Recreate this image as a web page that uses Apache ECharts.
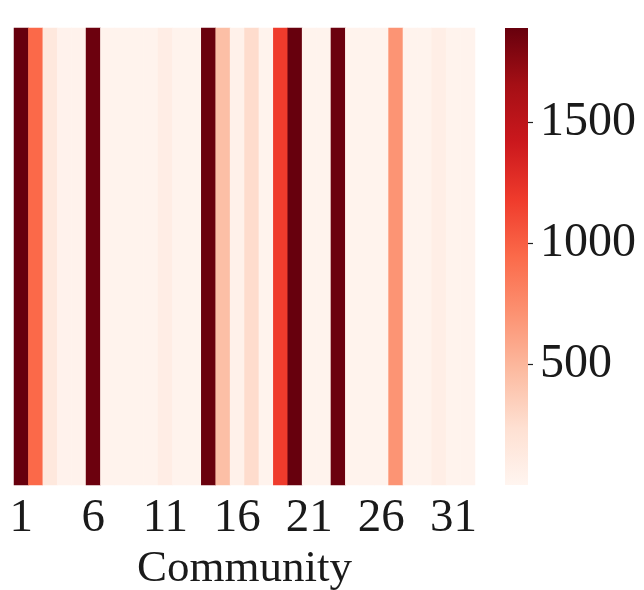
<!DOCTYPE html>
<html>
<head>
<meta charset="utf-8">
<script src="https://cdn.jsdelivr.net/npm/echarts@6/dist/echarts.min.js"></script>
<style>
  html, body { margin: 0; padding: 0; background: #ffffff; }
  #chart { width: 644px; height: 590px; }
</style>
</head>
<body>
<div id="chart"></div>
<script>
// Community indices (x axis) and their per-community counts
const communities = Array.from({ length: 32 }, (_, i) => String(i + 1));
const counts = [
  1890, 950, 150, 30, 30, 1870, 25, 25, 25, 25,
  85, 25, 25, 1880, 450, 45, 260, 25, 1180, 1890,
  25, 25, 1875, 25, 25, 25, 700, 25, 25, 80,
  25, 25
];
// Colour scale range and colour-bar tick values
const scaleMin = 0;
const scaleMax = 1890;
const barTicks = [500, 1000, 1500];

// Sequential "Reds" palette
const reds = ['#fff5f0', '#fee0d2', '#fcbba1', '#fc9272', '#fb6a4a',
              '#ef3b2c', '#cb181d', '#a50f15', '#67000d'];

const FONT = '"Liberation Serif", "Times New Roman", serif';

const cells = counts.map((v, i) => [i, 0, v]);

// Colour bar: one gradient rectangle spanning the scale range on its own axis
function renderColorBar(params, api) {
  const cs = params.coordSys;
  const yTop = api.coord([0, api.value(1)])[1];
  const yBottom = api.coord([0, api.value(0)])[1];
  const stops = reds.map((c, i) => ({ offset: i / (reds.length - 1), color: c })).reverse()
    .map((s, i, arr) => ({ offset: i / (arr.length - 1), color: s.color }));
  return {
    type: 'rect',
    shape: { x: cs.x, y: yTop, width: cs.width, height: yBottom - yTop },
    style: { fill: new echarts.graphic.LinearGradient(0, 0, 0, 1, stops) },
    silent: true
  };
}

const chart = echarts.init(document.getElementById('chart'), null, { renderer: 'canvas' });

chart.setOption({
  animation: false,
  backgroundColor: '#ffffff',
  grid: [
    { left: 14, top: 28, width: 461, height: 457, outerBoundsMode: 'none', containLabel: false },
    { left: 505, top: 28, width: 23, height: 457, outerBoundsMode: 'none', containLabel: false }
  ],
  xAxis: [
    {
      type: 'category',
      gridIndex: 0,
      data: communities,
      name: 'Community',
      nameLocation: 'middle',
      nameGap: 58,
      nameTextStyle: { fontFamily: FONT, fontSize: 45, color: '#1a1a1a' },
      axisLine: { show: false },
      axisTick: { show: false },
      splitLine: { show: false },
      axisLabel: {
        interval: 4,
        margin: 10,
        fontFamily: FONT,
        fontSize: 47,
        color: '#1a1a1a'
      }
    },
    {
      type: 'category',
      gridIndex: 1,
      data: [''],
      show: false
    }
  ],
  yAxis: [
    {
      type: 'category',
      gridIndex: 0,
      data: [''],
      show: false
    },
    {
      type: 'value',
      gridIndex: 1,
      position: 'right',
      min: scaleMin,
      max: scaleMax,
      interval: 500,
      axisLine: { show: true, lineStyle: { color: 'rgba(0,0,0,0)' } },
      splitLine: { show: false },
      axisTick: { show: true, length: 5, lineStyle: { color: '#222', width: 1.2 } },
      axisLabel: {
        showMinLabel: false,
        showMaxLabel: false,
        margin: 12,
        fontFamily: FONT,
        fontSize: 48,
        color: '#1a1a1a',
        formatter: v => (barTicks.includes(v) ? String(v) : '')
      }
    }
  ],
  visualMap: {
    type: 'continuous',
    show: false,
    min: scaleMin,
    max: scaleMax,
    seriesIndex: 0,
    inRange: { color: reds }
  },
  series: [
    {
      type: 'heatmap',
      xAxisIndex: 0,
      yAxisIndex: 0,
      data: cells,
      itemStyle: { borderWidth: 0 },
      emphasis: { disabled: true }
    },
    {
      type: 'custom',
      xAxisIndex: 1,
      yAxisIndex: 1,
      data: [[scaleMin, scaleMax]],
      encode: { y: [0, 1] },
      renderItem: renderColorBar,
      silent: true
    }
  ]
});
</script>
</body>
</html>
